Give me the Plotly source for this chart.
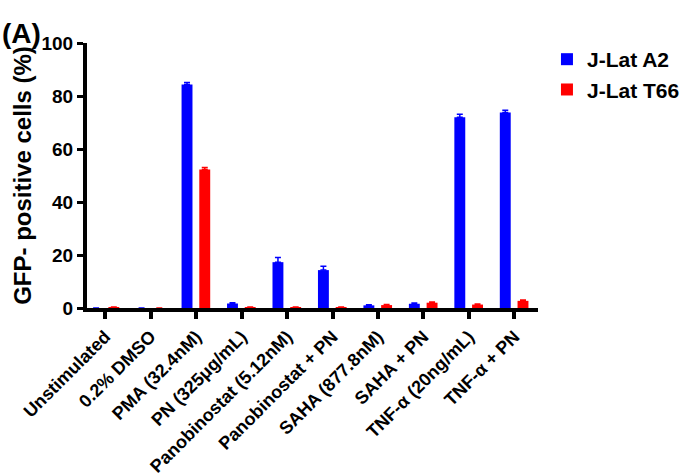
import plotly.graph_objects as go

categories = ["Unstimulated", "0.2% DMSO", "PMA (32.4nM)", "PN (325μg/mL)",
              "Panobinostat (5.12nM)", "Panobinostat + PN", "SAHA (877.8nM)",
              "SAHA + PN", "TNF-α (20ng/mL)", "TNF-α + PN"]
a2_values = [0.0, 0.0, 84.3, 1.7, 17.3, 14.3, 1.0, 1.6, 72.0, 73.8]
a2_errors = [0.0, 0.0, 0.8, 0.3, 1.8, 1.5, 0.2, 0.3, 1.1, 0.8]
t66_values = [0.3, 0.0, 52.3, 0.3, 0.3, 0.3, 1.1, 2.0, 1.3, 2.7]
t66_errors = [0.1, 0.0, 0.7, 0.1, 0.1, 0.1, 0.2, 0.3, 0.2, 0.3]
y_ticks = [0, 20, 40, 60, 80, 100]

xs = list(range(len(categories)))
FONT = "Liberation Sans, Arial, sans-serif"

fig = go.Figure()
fig.add_trace(go.Bar(
    x=xs, y=a2_values, name="J-Lat A2", marker_color="#0000FF",
    marker_line_width=0, width=0.24, offset=-0.32,
    error_y=dict(type="data", array=a2_errors, arrayminus=[0]*len(xs),
                 symmetric=False, color="#0000FF", thickness=1.5, width=3),
))
fig.add_trace(go.Bar(
    x=xs, y=t66_values, name="J-Lat T66", marker_color="#FF0000",
    marker_line_width=0, width=0.24, offset=0.07,
    error_y=dict(type="data", array=t66_errors, arrayminus=[0]*len(xs),
                 symmetric=False, color="#FF0000", thickness=1.5, width=3),
))

fig.update_layout(
    width=695, height=476,
    margin=dict(l=87, r=157, t=43, b=168, autoexpand=False),
    paper_bgcolor="white", plot_bgcolor="white",
    font=dict(family=FONT, color="black"),
    barmode="overlay",
    legend=dict(x=0.787, y=0.918, xref="container", yref="container",
                xanchor="left", yanchor="top",
                font=dict(size=21, family=FONT, weight="bold"),
                tracegroupgap=8, bgcolor="rgba(0,0,0,0)"),
    xaxis=dict(range=[-0.4, 9.52], tickmode="array", tickvals=xs,
               ticktext=categories, tickangle=-45, automargin=False,
               tickfont=dict(size=18, family=FONT, weight="bold"),
               showline=True, linecolor="black", linewidth=4,
               ticks="outside", ticklen=7, tickwidth=4, tickcolor="black",
               showgrid=False, zeroline=False),
    yaxis=dict(range=[0, 100], tickmode="array", tickvals=y_ticks,
               automargin=False,
               tickfont=dict(size=19, family=FONT, weight="bold"),
               showline=True, linecolor="black", linewidth=4,
               ticks="outside", ticklen=6, tickwidth=3, tickcolor="black",
               showgrid=False, zeroline=False,
               title=dict(text="GFP- positive cells (%)", standoff=4,
                          font=dict(size=24, family=FONT, weight="bold"))),
)
fig.add_annotation(text="(A)", xref="paper", yref="paper",
                   x=-0.193, y=1.1, xanchor="left", yanchor="top",
                   showarrow=False,
                   font=dict(size=28, family=FONT, weight="bold"))

fig.write_html("out.html")
